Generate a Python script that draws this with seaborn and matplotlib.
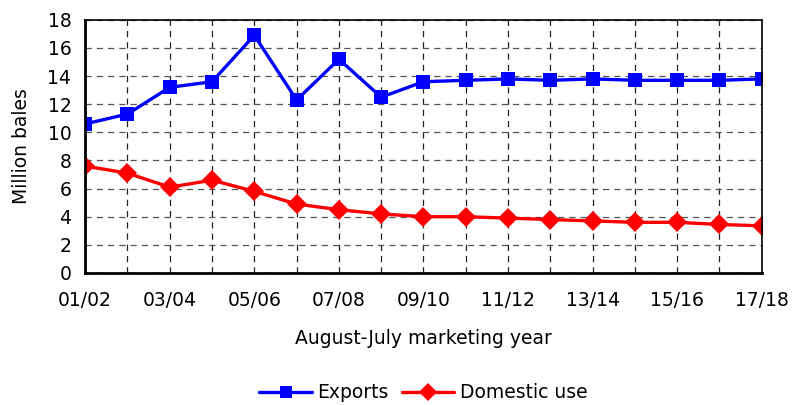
import pandas as pd
import seaborn as sns
import matplotlib.pyplot as plt

years = ["01/02", "02/03", "03/04", "04/05", "05/06", "06/07", "07/08", "08/09", "09/10",
         "10/11", "11/12", "12/13", "13/14", "14/15", "15/16", "16/17", "17/18"]
exports = [10.6, 11.3, 13.2, 13.6, 16.9, 12.3, 15.2, 12.5, 13.6,
           13.7, 13.8, 13.7, 13.8, 13.7, 13.7, 13.7, 13.8]
domestic = [7.6, 7.1, 6.1, 6.6, 5.8, 4.9, 4.5, 4.2, 4.0,
            4.0, 3.9, 3.8, 3.7, 3.6, 3.6, 3.45, 3.35]

# long-form table for seaborn
data = pd.DataFrame({
    "year": years * 2,
    "value": exports + domestic,
    "series": ["Exports"] * len(years) + ["Domestic use"] * len(years),
})

sns.set_style("white")
plt.rcParams['font.family'] = ['DejaVu Sans']
plt.rcParams['text.color'] = 'black'
plt.rcParams['axes.labelcolor'] = 'black'
plt.rcParams['xtick.color'] = 'black'
plt.rcParams['ytick.color'] = 'black'
fs = 13.5

fig = plt.figure(figsize=(7.96, 4.05), dpi=100)
ax = fig.add_axes([0.107, 0.326, 0.85, 0.625])

sns.lineplot(data=data, x="year", y="value", hue="series", style="series",
             palette={"Exports": "#0000ff", "Domestic use": "#ff0000"},
             markers={"Exports": "s", "Domestic use": "D"}, dashes=False,
             linewidth=2.4, markeredgewidth=0, ax=ax, sort=False)

for line, ms in zip(ax.lines, [9.5, 10]):
    line.set_markersize(ms)

ax.set_xlim(0, len(years) - 1)
ax.set_ylim(0, 18)
ax.set_yticks(range(0, 19, 2))
ax.set_xticks(range(0, len(years), 2))
ax.set_xticklabels(years[::2])
ax.set_xticks(range(len(years)), minor=True)

ax.grid(True, which="both", axis="x", linestyle=(0, (5, 4)), color="#222222", linewidth=0.9)
ax.grid(True, which="major", axis="y", linestyle=(0, (5, 4)), color="#555555", linewidth=0.9)
ax.set_axisbelow(True)

for s in ["left", "bottom"]:
    ax.spines[s].set_linewidth(2)
    ax.spines[s].set_color("black")
for s in ["top", "right"]:
    ax.spines[s].set_linewidth(1.2)
    ax.spines[s].set_color("black")

ax.tick_params(axis="both", which="both", length=0, labelsize=fs, labelcolor="black")
ax.tick_params(axis="x", pad=13)
ax.tick_params(axis="y", pad=10)
ax.set_xlabel("August-July marketing year", fontsize=fs, labelpad=14)
ax.set_ylabel("Million bales", fontsize=fs, labelpad=12)

handles, labels = ax.get_legend_handles_labels()
ax.get_legend().remove()
for h in handles:
    h.set_markersize(9)
    h.set_linewidth(2.4)
fig.legend(handles, labels, loc="center", bbox_to_anchor=(0.532, 0.03),
           ncol=2, frameon=False, fontsize=fs, handlelength=2.8,
           columnspacing=0.7, handletextpad=0.3, borderaxespad=0, borderpad=0)

fig.savefig("out.png", dpi=100)
